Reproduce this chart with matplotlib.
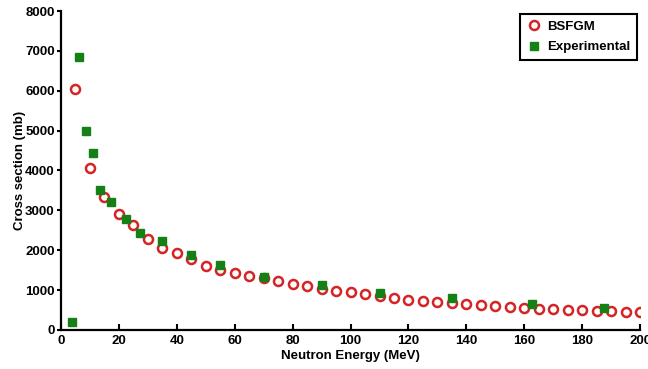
import numpy as np
import matplotlib.pyplot as plt

plt.rcParams['font.family'] = ['Liberation Sans', 'DejaVu Sans']
plt.rcParams['font.weight'] = 'bold'

# BSFGM calculation, every 5 MeV
E_bsfgm = np.arange(5, 201, 5)
sigma_bsfgm = [6050, 4070, 3325, 2900, 2620, 2275, 2060, 1920, 1785, 1610,
               1500, 1430, 1350, 1300, 1220, 1150, 1090, 1030, 980, 940,
               890, 840, 800, 760, 730, 700, 670, 640, 615, 595,
               575, 555, 535, 515, 500, 490, 480, 470, 455, 440]

# Experimental data
E_exp = [3.7, 6.3, 8.7, 11.2, 13.5, 17.4, 22.6, 27.4, 35, 45,
         55, 70, 90, 110, 135, 162.5, 187.5]
sigma_exp = [210, 6860, 4980, 4450, 3510, 3215, 2780, 2420, 2240, 1880,
             1630, 1315, 1120, 920, 800, 645, 545]

fig = plt.figure(figsize=(6.48, 3.69), dpi=100)
ax = fig.add_axes([0.094, 0.106, 0.894, 0.864])

ax.plot(E_bsfgm, sigma_bsfgm, 'o', mfc='white', mec='#d42424', mew=1.8,
        ms=6.5, label='BSFGM')
ax.plot(E_exp, sigma_exp, 's', color='#158015', ms=6, label='Experimental')

ax.set_xlim(0, 200)
ax.set_ylim(0, 8000)
ax.set_xticks(range(0, 201, 20))
ax.set_yticks(range(0, 8001, 1000))
ax.tick_params(axis='x', direction='in', length=4, width=1.5, labelsize=9.5)
ax.tick_params(axis='y', direction='out', length=3, width=1.5, labelsize=9.5, pad=1.5)
for s in ['top', 'right']:
    ax.spines[s].set_visible(False)
for s in ['left', 'bottom']:
    ax.spines[s].set_linewidth(1.6)

ax.set_xlabel('Neutron Energy (MeV)', fontsize=9.5, fontweight='bold', labelpad=2)
ax.set_ylabel('Cross section (mb)', fontsize=9.5, fontweight='bold', labelpad=-1)

leg = ax.legend(loc='upper right', fontsize=9.5, fancybox=False,
                edgecolor='black', framealpha=1, handletextpad=0.4,
                borderpad=0.5, labelspacing=0.6, handlelength=1.2,
                borderaxespad=0, bbox_to_anchor=(0.995, 0.99))
leg.get_frame().set_linewidth(1.5)

plt.savefig('out.png', dpi=100)
